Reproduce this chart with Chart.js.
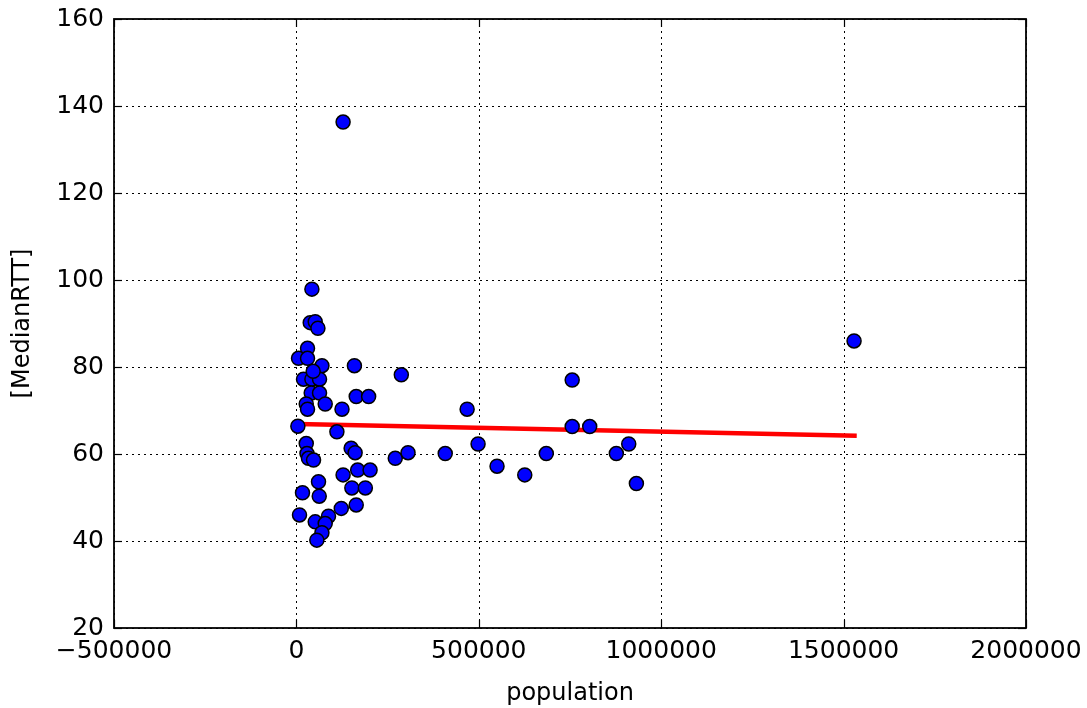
<!DOCTYPE html>
<html>
<head>
<meta charset="utf-8">
<script src="https://cdn.jsdelivr.net/npm/chart.js@4.4.1/dist/chart.umd.min.js"></script>
<style>
html,body{margin:0;padding:0;background:#fff;}
#c{display:block;}
</style>
</head>
<body>
<canvas id="c" width="1087" height="708"></canvas>
<script>
// Data
const population = [
  128000, 1528700, 42500, 37900, 51600, 59000, 30500, 5800, 30500, 70000,
  159000, 287600, 19500, 42500, 63400, 46000, 40600, 63400, 164000, 198000,
  27000, 79000, 30500, 125000, 4000, 111000, 27000, 150000, 161000, 29000,
  33000, 47000, 271000, 306000, 128000, 168000, 202000, 60600, 16700, 62600,
  152000, 189000, 164000, 123000, 88000, 8500, 51600, 79000, 70000, 56000,
  468000, 408000, 498000, 550000, 626000, 685000, 756000, 756000, 804000, 877000,
  911000, 932000
];
const medianRTT = [
  136.3, 86.0, 97.9, 90.2, 90.4, 88.9, 84.3, 82.0, 82.0, 80.3,
  80.3, 78.2, 77.2, 77.2, 77.2, 79.0, 74.0, 74.0, 73.2, 73.2,
  71.5, 71.5, 70.3, 70.3, 66.4, 65.1, 62.4, 61.3, 60.3, 60.1,
  59.0, 58.6, 59.0, 60.3, 55.2, 56.3, 56.3, 53.6, 51.1, 50.3,
  52.2, 52.2, 48.3, 47.5, 45.7, 46.0, 44.4, 44.0, 41.9, 40.2,
  70.3, 60.1, 62.3, 57.2, 55.2, 60.1, 77.0, 66.3, 66.3, 60.1,
  62.3, 53.2
];
const fitX = [4000, 1536000];
const fitY = [66.9, 64.2];
const xTickValues = [-500000, 0, 500000, 1000000, 1500000, 2000000];
const xTickLabels = ['\u2212500000', '0', '500000', '1000000', '1500000', '2000000'];
const yTickValues = [20, 40, 60, 80, 100, 120, 140, 160];
const yTickLabels = ['20', '40', '60', '80', '100', '120', '140', '160'];
const xTitle = 'population';
const yTitle = '[MedianRTT]';

const scatterPts = population.map((x, i) => ({x: x, y: medianRTT[i]}));
const fitPts = fitX.map((x, i) => ({x: x, y: fitY[i]}));

const FONT = 'DejaVu Sans';

const framePlugin = {
  id: 'frame',
  beforeDatasetsDraw(chart) {
    const ctx = chart.ctx, a = chart.chartArea;
    const xs = chart.scales.x, ys = chart.scales.y;
    ctx.save();
    ctx.strokeStyle = '#000';
    ctx.lineWidth = 1;
    ctx.setLineDash([2, 4]);
    xTickValues.forEach(v => {
      const px = Math.round(xs.getPixelForValue(v)) + 0.5;
      ctx.beginPath(); ctx.moveTo(px, a.top); ctx.lineTo(px, a.bottom); ctx.stroke();
    });
    yTickValues.forEach(v => {
      const py = Math.round(ys.getPixelForValue(v)) + 0.5;
      ctx.beginPath(); ctx.moveTo(a.left, py); ctx.lineTo(a.right, py); ctx.stroke();
    });
    ctx.restore();
  },
  afterDraw(chart) {
    const ctx = chart.ctx, a = chart.chartArea;
    const xs = chart.scales.x, ys = chart.scales.y;
    ctx.save();
    ctx.strokeStyle = '#000';
    ctx.lineWidth = 1.2;
    const L = 8;
    xTickValues.forEach(v => {
      const px = Math.round(xs.getPixelForValue(v)) + 0.5;
      ctx.beginPath(); ctx.moveTo(px, a.bottom); ctx.lineTo(px, a.bottom - L); ctx.stroke();
      ctx.beginPath(); ctx.moveTo(px, a.top); ctx.lineTo(px, a.top + L); ctx.stroke();
    });
    yTickValues.forEach(v => {
      const py = Math.round(ys.getPixelForValue(v)) + 0.5;
      ctx.beginPath(); ctx.moveTo(a.left, py); ctx.lineTo(a.left + L, py); ctx.stroke();
      ctx.beginPath(); ctx.moveTo(a.right, py); ctx.lineTo(a.right - L, py); ctx.stroke();
    });
    ctx.lineWidth = 1.8;
    ctx.strokeRect(a.left, a.top, a.right - a.left, a.bottom - a.top);
    ctx.restore();
  }
};

new Chart(document.getElementById('c'), {
  type: 'scatter',
  data: {
    datasets: [
      {
        label: 'points',
        data: scatterPts,
        backgroundColor: '#0000ff',
        borderColor: '#000000',
        borderWidth: 1.5,
        pointRadius: 7,
        pointHoverRadius: 7,
        order: 1
      },
      {
        label: 'fit',
        type: 'line',
        data: fitPts,
        borderColor: '#ff0000',
        borderWidth: 4.5,
        pointRadius: 0,
        fill: false,
        tension: 0,
        order: 2
      }
    ]
  },
  options: {
    responsive: false,
    animation: false,
    events: [],
    layout: {padding: {top: 19, right: 61, left: 0, bottom: 0}},
    plugins: {legend: {display: false}, tooltip: {enabled: false}},
    scales: {
      x: {
        type: 'linear',
        min: -500000, max: 2000000,
        afterBuildTicks: s => { s.ticks = xTickValues.map(v => ({value: v})); },
        afterFit: s => { s.height = 80; s.paddingLeft = 0; s.paddingRight = 0; },
        grid: {display: false, drawTicks: false},
        border: {display: false},
        ticks: {
          callback: v => xTickLabels[xTickValues.indexOf(v)],
          color: '#000',
          font: {family: FONT, size: 25},
          padding: 8,
          maxRotation: 0
        },
        title: {display: true, text: xTitle, color: '#000', font: {family: FONT, size: 24}, padding: {top: 4, bottom: 0}}
      },
      y: {
        type: 'linear',
        min: 20, max: 160,
        afterBuildTicks: s => { s.ticks = yTickValues.map(v => ({value: v})); },
        afterFit: s => { s.width = 114; s.paddingTop = 0; s.paddingBottom = 0; },
        grid: {display: false, drawTicks: false},
        border: {display: false},
        ticks: {
          callback: v => yTickLabels[yTickValues.indexOf(v)],
          color: '#000',
          font: {family: FONT, size: 25},
          padding: 10
        },
        title: {display: true, text: yTitle, color: '#000', font: {family: FONT, size: 24}, padding: {top: 8, bottom: 0}}
      }
    }
  },
  plugins: [framePlugin]
});
</script>
</body>
</html>
